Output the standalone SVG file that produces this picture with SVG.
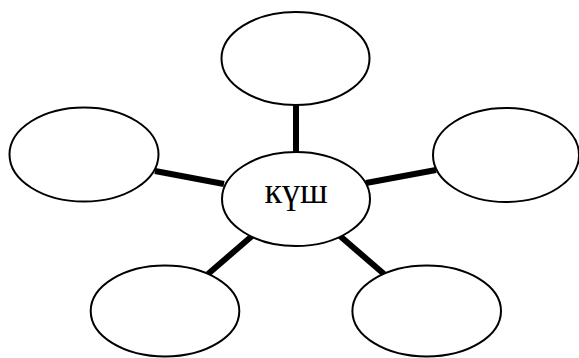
<svg xmlns="http://www.w3.org/2000/svg" width="579" height="358" viewBox="0 0 579 358">
  <style>
    .node { fill: #ffffff; stroke: #000000; stroke-width: 2; }
    .link { stroke: #000000; stroke-width: 6; fill: none; }
    .label { font-family: "Liberation Serif", "DejaVu Serif", serif; font-size: 36px; fill: #000000; text-anchor: middle; }
  </style>
  <rect width="579" height="358" fill="#ffffff"/>
  <g id="connectors">
    <line class="link" x1="296" y1="104" x2="296" y2="153"/>
    <line class="link" x1="155" y1="171" x2="224" y2="184"/>
    <line class="link" x1="366" y1="183" x2="436" y2="170"/>
    <line class="link" x1="208" y1="274" x2="252" y2="236"/>
    <line class="link" x1="340" y1="236" x2="384" y2="274"/>
  </g>
  <g id="node-top">
    <ellipse class="node" cx="295.5" cy="58.5" rx="74" ry="46.5"/>
  </g>
  <g id="node-left">
    <ellipse class="node" cx="84" cy="154.5" rx="74.5" ry="47"/>
  </g>
  <g id="node-right">
    <ellipse class="node" cx="506" cy="155" rx="73" ry="47"/>
  </g>
  <g id="node-bottom-left">
    <ellipse class="node" cx="165" cy="311" rx="74.3" ry="45.5"/>
  </g>
  <g id="node-bottom-right">
    <ellipse class="node" cx="426.7" cy="311" rx="74.3" ry="45.5"/>
  </g>
  <g id="node-center">
    <ellipse class="node" cx="296" cy="199" rx="74" ry="47"/>
    <text class="label" x="296" y="203">күш</text>
  </g>
</svg>
